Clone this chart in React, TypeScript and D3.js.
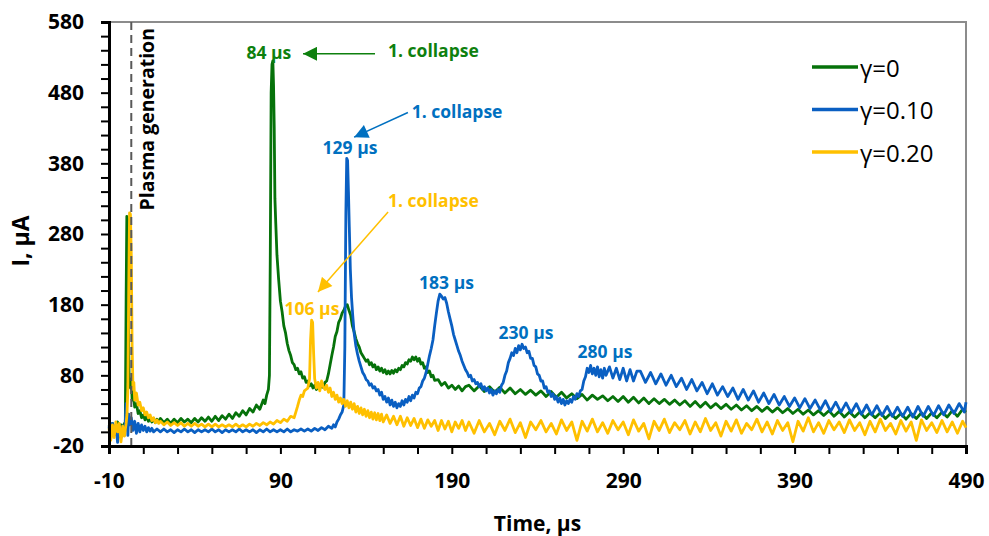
import React, { useEffect, useRef } from 'react';
import * as d3 from 'd3';

// readings taken off the oscilloscope traces: [time µs, current µA]
const gamma0: [number, number][] = [
  [-10,10],[-9,4],[-8,12],[-7,2],[-6,9],[-5,14],[-4,3],[-3,10],[-2,6],[-1,12],[-0.5,8],
  [0,190],[0.4,305],[0.9,300],[1.3,150],[1.8,70],[2.5,62],[3,75],[3.5,45],[4,55],[5,35],[6,40],[7,26],[8,30],[9,20],[10,24],
  [11,17],[12,22],[13,15],[14,20],[15,14],[16,19],[17,13],[18,18],[19,14],[20,19],[22,13],[24,18],[26,12],[28,18],[30,13],
  [32,19],[34,14],[36,18],[38,13],[40,19],[42,14],[44,20],[46,15],[48,21],[50,15],[52,22],[54,16],[56,23],[58,18],[60,25],
  [62,19],[64,27],[66,22],[68,30],[70,24],[72,33],[74,28],[76,38],[78,32],[80,45],[81,40],[82,52],[83,60],[83.6,80],
  [84.1,250],[84.6,480],[85.1,520],[85.6,525],[86,490],[86.4,430],[86.8,330],[87.3,295],[88,250],[89,215],
  [90,185],[91,170],[92,150],[93,140],[94,125],[95,115],[96,108],[97,98],[98,95],[99,88],[100,90],[101,82],[102,85],
  [103,76],[104,78],[105,70],[106,72],[107,65],[108,68],[109,62],[110,66],[111,60],[112,64],[113,61],[114,66],[115,63],
  [116,70],[117,72],[118,82],[119,95],[120,108],[121,120],[122,135],[123,142],[124,155],[125,160],[126,168],[127,172],
  [128,178],[129,180],[130,172],[131,165],[132,150],[133,142],[134,132],[135,125],[136,120],[137,112],[138,108],[139,104],
  [140,100],[141,102],[142,95],[143,98],[144,92],[145,95],[146,88],[147,92],[148,86],[149,90],[150,84],[151,88],[152,82],
  [153,86],[154,82],[155,87],[156,83],[157,88],[158,85],[159,90],[160,88],[161,94],[162,92],[163,98],[164,96],[165,102],
  [166,100],[167,106],[168,102],[169,106],[170,100],[171,104],[172,96],[173,98],[174,90],[175,92],[176,84],[177,86],
  [178,78],[179,80],[180,73],[182,74],[184,66],[186,70],[188,62],[190,66],[192,60],[194,65],[196,58],[198,64],
  [200,66],[203,58],[206,65],[209,57],[212,64],[215,56],[218,63],[221,55],[224,62],[227,54],[230,60],[233,53],[236,59],
  [239,52],[242,58],[245,50],[248,57],[251,49],[254,56],[257,48],[260,54],[263,47],[266,53],[269,45],[272,52],[275,46],
  [278,51],[281,44],[284,50],[287,43],[290,50],[293,42],[296,49],[299,41],[302,48],[305,40],[308,47],[311,40],[314,46],
  [317,39],[320,45],[323,38],[326,44],[329,36],[332,43],[335,35],[338,42],[341,34],[344,40],[347,33],[350,39],[353,32],
  [356,38],[359,31],[362,37],[365,30],[368,36],[371,29],[374,35],[377,28],[380,34],[383,27],[386,33],[389,26],[392,32],
  [395,25],[398,31],[401,24],[404,30],[407,23],[410,30],[413,22],[416,29],[419,21],[422,28],[425,21],[428,28],[431,20],
  [434,27],[437,20],[440,27],[443,19],[446,26],[449,19],[452,26],[455,18],[458,26],[461,19],[464,27],[467,19],[470,27],
  [473,20],[476,28],[479,21],[482,30],[485,22],[488,32],[490,28]
];

const gamma10: [number, number][] = [
  [-10,8],[-9,-10],[-8,12],[-7,-5],[-6,10],[-5,-15],[-4,6],[-3,-8],[-2,8],[-1,-5],[-0.5,15],[0,40],[0.5,20],[1,-5],
  [1.5,25],[2,10],[3,20],[4,2],[5,15],[6,-2],[7,12],[8,0],[9,10],[10,2],[11,8],[12,0],[13,6],[14,1],[15,5],[16,0],
  [18,4],[20,0],[22,4],[24,0],[26,3],[28,-1],[30,3],[32,0],[34,4],[36,0],[38,3],[40,-1],[42,3],[44,0],[46,3],[48,0],
  [50,4],[52,0],[54,3],[56,-1],[58,3],[60,0],[62,3],[64,0],[66,4],[68,0],[70,3],[72,0],[74,3],[76,-1],[78,3],[80,0],
  [82,4],[84,0],[86,3],[88,0],[90,3],[92,0],[94,4],[96,0],[98,3],[100,1],[102,4],[104,1],[106,4],[108,1],[110,5],
  [112,2],[114,6],[116,3],[118,8],[120,5],[121,10],[122,7],[123,14],[124,18],[125,24],[126,28],[127,38],[127.6,120],
  [128.2,310],[128.7,387],[129.2,384],[129.7,340],[130.2,290],[130.8,230],[131.5,190],[132.2,165],[133,140],[134,122],
  [135,110],[136,100],[137,92],[138,84],[139,80],[140,74],[141,72],[142,66],[143,68],[144,62],[145,64],[146,58],[147,60],
  [148,52],[149,56],[150,46],[151,50],[152,42],[153,48],[154,38],[155,45],[156,36],[157,42],[158,34],[159,40],[160,36],
  [161,44],[162,38],[163,46],[164,42],[165,50],[166,44],[167,52],[168,48],[169,56],[170,54],[171,62],[172,64],[173,72],
  [174,76],[175,84],[176,96],[177,108],[178,118],[179,130],[180,150],[181,168],[182,185],[183,195],[184,192],[185,188],
  [186,190],[187,182],[188,170],[189,160],[190,150],[191,138],[192,130],[193,122],[194,114],[195,108],[196,100],[197,94],
  [198,88],[199,84],[200,78],[201,80],[202,72],[203,74],[204,68],[205,70],[206,64],[207,68],[208,60],[209,64],[210,58],
  [211,62],[212,55],[213,60],[214,52],[215,58],[216,54],[217,60],[218,56],[219,66],[220,70],[221,80],[222,86],[223,98],
  [224,104],[225,112],[226,108],[227,118],[228,112],[229,122],[230,116],[231,124],[232,118],[233,120],[234,112],[235,114],
  [236,104],[237,104],[238,94],[239,92],[240,82],[241,80],[242,72],[243,72],[244,62],[245,64],[246,56],[247,58],[248,50],
  [249,54],[250,46],[251,50],[252,42],[253,48],[254,40],[255,46],[256,38],[257,44],[258,40],[259,46],[260,42],[261,50],
  [262,46],[263,54],[264,50],[265,58],[266,60],[267,72],[268,78],[269,90],[270,84],[271,94],[272,82],[273,90],[274,80],
  [275,92],[276,78],[277,88],[278,76],[279,90],[280,80],[282,92],[284,76],[286,90],[288,74],[290,90],[292,72],[294,88],
  [296,72],[298,86],[300,86],[303,70],[306,84],[309,68],[312,82],[315,66],[318,80],[321,64],[324,76],[327,60],[330,74],
  [333,58],[336,70],[339,54],[342,68],[345,52],[348,64],[351,50],[354,62],[357,46],[360,60],[363,45],[366,58],[369,42],
  [372,55],[375,40],[378,53],[381,38],[384,50],[387,36],[390,48],[393,34],[396,47],[399,33],[402,45],[405,31],[408,44],
  [411,29],[414,42],[417,28],[420,41],[423,27],[426,40],[429,25],[432,38],[435,24],[438,37],[441,23],[444,36],[447,22],
  [450,35],[453,22],[456,35],[459,21],[462,36],[465,22],[468,36],[471,23],[474,37],[477,24],[480,38],[483,26],[486,40],
  [489,28],[490,42]
];

const gamma20: [number, number][] = [
  [-10,5],[-9,-12],[-8,10],[-7,-8],[-6,14],[-5,0],[-4,12],[-3,-14],[-2,8],[-1,-6],[0,12],[0.5,25],[1,60],[1.5,200],
  [2,310],[2.5,308],[3,250],[3.5,120],[4,60],[4.5,70],[5,45],[6,55],[7,38],[8,42],[9,30],[10,34],[11,24],[12,28],
  [13,20],[14,24],[15,16],[16,20],[17,13],[18,17],[19,12],[20,15],[22,10],[24,14],[26,9],[28,13],[30,9],[32,13],[34,8],
  [36,12],[38,8],[40,12],[42,8],[44,11],[46,7],[48,11],[50,7],[52,11],[54,7],[56,10],[58,7],[60,10],[62,7],[64,11],
  [66,7],[68,10],[70,7],[72,11],[74,8],[76,12],[78,9],[80,13],[82,10],[84,14],[86,11],[88,16],[90,13],[92,18],[94,15],
  [96,22],[98,20],[99,28],[100,36],[101,45],[102,52],[103,50],[104,58],[105,60],[106,62],[107,75],[107.6,130],
  [108.2,158],[108.8,155],[109.4,110],[110,75],[111,62],[112,70],[113,58],[114,72],[115,64],[116,60],[117,66],[118,56],
  [119,62],[120,50],[121,56],[122,46],[123,52],[124,42],[125,48],[126,40],[127,46],[128,36],[129,44],[130,34],[131,42],
  [132,32],[133,40],[134,28],[135,36],[136,26],[137,34],[138,24],[139,32],[140,22],[141,30],[142,20],[143,28],[144,18],
  [145,27],[146,17],[147,26],[148,16],[149,25],[150,14],[152,24],[154,12],[156,22],[158,10],[160,22],[162,8],[164,20],
  [166,9],[168,19],[170,6],[172,18],[174,5],[176,17],[178,8],[180,16],[182,2],[184,16],[186,4],[188,15],[190,0],
  [192,14],[194,5],[196,16],[198,2],[200,14],[203,-2],[206,16],[209,0],[212,12],[215,-4],[218,15],[221,2],[224,18],
  [227,-1],[230,13],[233,-8],[236,14],[239,3],[242,16],[245,0],[248,12],[251,-3],[254,17],[257,2],[260,14],[263,-12],
  [266,15],[269,1],[272,18],[275,0],[278,13],[281,-2],[284,16],[287,3],[290,14],[293,-4],[296,17],[299,1],[302,12],
  [305,-10],[308,15],[311,2],[314,18],[317,-1],[320,13],[323,3],[326,16],[329,-3],[332,14],[335,0],[338,19],[341,2],
  [344,13],[347,-6],[350,15],[353,1],[356,17],[359,-2],[362,12],[365,3],[368,18],[371,0],[374,14],[377,-3],[380,16],
  [383,2],[386,13],[389,-14],[392,15],[395,1],[398,20],[401,0],[404,13],[407,-2],[410,16],[413,3],[416,14],[419,-1],
  [422,17],[425,2],[428,13],[431,-4],[434,15],[437,0],[440,18],[443,2],[446,12],[449,-3],[452,16],[455,1],[458,14],
  [461,-12],[464,17],[467,2],[470,13],[473,-1],[476,16],[479,0],[482,14],[485,-2],[488,15],[490,6]
];

const seriesNames = ['γ=0', 'γ=0.10', 'γ=0.20'];
const seriesColors = ['#06720A', '#0A5FC2', '#FFC000'];
const textColors = ['#0E800E', '#0070C0', '#FFC000'];

const xTickValues = d3.range(-10, 491, 20);
const yTickValues = d3.range(-20, 581, 20);
const plasmaTime = 3;

// peak labels: [text, time, current, series]
const peakLabels: [string, number, number, number][] = [
  ['84 µs', 83.3, 538, 0],
  ['129 µs', 130.6, 403, 1],
  ['106 µs', 108.4, 175, 2],
  ['183 µs', 186.9, 212, 1],
  ['230 µs', 233.3, 141, 1],
  ['280 µs', 279.4, 114, 1],
];
// "1. collapse" callouts: text pos [t, v], arrow from [t, v] to [t, v], series
const collapseNotes: { at: [number, number]; from: [number, number]; to: [number, number]; s: number }[] = [
  { at: [152.8, 540], from: [145.2, 535], to: [103.2, 535], s: 0 },
  { at: [166.6, 454], from: [164.4, 452], to: [133, 417], s: 1 },
  { at: [152.8, 328], from: [152.8, 311], to: [111.9, 198], s: 2 },
];

const W = 989, H = 536;
const margin = { top: 22, right: 23, bottom: 90, left: 109 };
const FONT = '"Open Sans", "DejaVu Sans", sans-serif';

const App = () => {
  const ref = useRef<SVGSVGElement>(null);

  useEffect(() => {
    const svg = d3.select(ref.current);
    svg.selectAll('*').remove();

    const x = d3.scaleLinear().domain([-10, 490]).range([margin.left, W - margin.right]);
    const y = d3.scaleLinear().domain([-20, 580]).range([H - margin.bottom, margin.top]);

    const defs = svg.append('defs');
    seriesColors.forEach((c, i) => {
      defs.append('marker')
        .attr('id', 'arr' + i)
        .attr('viewBox', '0 0 10 10')
        .attr('refX', 10).attr('refY', 5)
        .attr('markerWidth', 15).attr('markerHeight', 14)
        .attr('markerUnits', 'userSpaceOnUse')
        .attr('orient', 'auto')
        .append('path').attr('d', 'M0,0 L10,5 L0,10 Z').attr('fill', textColors[i]);
    });

    // frame top / right
    svg.append('path')
      .attr('d', `M${x(-10)},${y(580)}H${x(490)}V${y(-20)}`)
      .attr('fill', 'none').attr('stroke', '#8c8c8c').attr('stroke-width', 2);

    // series
    const line = d3.line<[number, number]>().x(d => x(d[0])).y(d => y(d[1]));
    [gamma0, gamma10, gamma20].forEach((data, i) => {
      svg.append('path')
        .datum(data)
        .attr('fill', 'none')
        .attr('stroke', seriesColors[i])
        .attr('stroke-width', 2.8)
        .attr('stroke-linejoin', 'round')
        .attr('d', line);
    });

    // plasma generation marker
    svg.append('line')
      .attr('x1', x(plasmaTime)).attr('x2', x(plasmaTime))
      .attr('y1', y(580)).attr('y2', y(-20))
      .attr('stroke', '#595959').attr('stroke-width', 2).attr('stroke-dasharray', '8,5');
    svg.append('text')
      .attr('transform', `translate(${x(plasmaTime) + 23},${y(580) + 6}) rotate(-90)`)
      .attr('text-anchor', 'end')
      .attr('font-family', FONT).attr('font-weight', 700).attr('font-size', 19.5)
      .attr('fill', '#000')
      .text('Plasma generation');

    // axes
    const yAxis = svg.append('g')
      .attr('transform', `translate(${margin.left},0)`)
      .call(d3.axisLeft(y).tickValues(yTickValues).tickSize(8).tickPadding(17)
        .tickFormat(d => ((+d + 20) % 100 === 0 ? String(d) : '')));
    const xAxis = svg.append('g')
      .attr('transform', `translate(0,${H - margin.bottom})`)
      .call(d3.axisBottom(x).tickValues(xTickValues).tickSize(8).tickPadding(19)
        .tickFormat(d => ((+d + 10) % 100 === 0 ? String(d) : '')));
    [yAxis, xAxis].forEach(g => {
      g.select('.domain').attr('stroke', '#000').attr('stroke-width', 3);
      g.selectAll('.tick line').attr('stroke', '#000').attr('stroke-width', 2);
      g.selectAll('.tick text')
        .attr('font-family', FONT).attr('font-weight', 700).attr('font-size', 21).attr('fill', '#000');
    });

    // axis titles
    svg.append('text')
      .attr('x', (x(-10) + x(490)) / 2).attr('y', 523)
      .attr('text-anchor', 'middle').attr('dominant-baseline', 'central')
      .attr('font-family', FONT).attr('font-weight', 700).attr('font-size', 21)
      .text('Time, µs');
    svg.append('text')
      .attr('transform', `translate(20,${241}) rotate(-90)`)
      .attr('text-anchor', 'middle').attr('dominant-baseline', 'central')
      .attr('font-family', FONT).attr('font-weight', 700).attr('font-size', 23)
      .text('I, µA');

    // peak labels
    peakLabels.forEach(([txt, t, v, s]) => {
      svg.append('text')
        .attr('x', x(t)).attr('y', y(v))
        .attr('text-anchor', 'middle').attr('dominant-baseline', 'central')
        .attr('font-family', FONT).attr('font-weight', 700).attr('font-size', 17.5)
        .attr('fill', textColors[s])
        .text(txt);
    });

    // collapse callouts
    collapseNotes.forEach(n => {
      svg.append('line')
        .attr('x1', x(n.from[0])).attr('y1', y(n.from[1]))
        .attr('x2', x(n.to[0])).attr('y2', y(n.to[1]))
        .attr('stroke', textColors[n.s]).attr('stroke-width', 1.5)
        .attr('marker-end', `url(#arr${n.s})`);
      svg.append('text')
        .attr('x', x(n.at[0])).attr('y', y(n.at[1]))
        .attr('dominant-baseline', 'central')
        .attr('font-family', FONT).attr('font-weight', 700).attr('font-size', 17.5)
        .attr('fill', textColors[n.s])
        .text('1. collapse');
    });

    // legend
    const legend = svg.append('g').attr('transform', 'translate(812,67)');
    seriesNames.forEach((name, i) => {
      const row = legend.append('g').attr('transform', `translate(0,${i * 42.5})`);
      row.append('line').attr('x1', 0).attr('x2', 46)
        .attr('stroke', seriesColors[i]).attr('stroke-width', 3.5);
      row.append('text').attr('x', 48)
        .attr('dominant-baseline', 'central')
        .attr('font-family', FONT).attr('font-size', 24).attr('fill', '#000')
        .text(name);
    });
  }, []);

  return (
    <svg ref={ref} width={W} height={H}
      style={{ position: 'absolute', left: 0, top: 0, background: '#fff' }} />
  );
};

export default App;
